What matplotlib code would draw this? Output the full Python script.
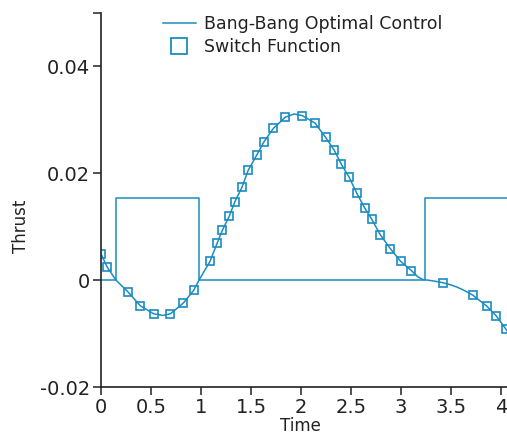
import matplotlib
matplotlib.use("Agg")
import matplotlib.pyplot as plt
from matplotlib.lines import Line2D

# Bang-bang control (step levels)
ctrl_t = [0.0, 0.15, 0.15, 0.98, 0.98, 3.24, 3.24, 4.1]
ctrl_u = [0.0, 0.0, 0.0153, 0.0153, 0.0, 0.0, 0.0153, 0.0153]

# Switch function samples (markers)
sw_t = [0.0, 0.063, 0.27, 0.393, 0.527, 0.693, 0.823, 0.927, 1.09, 1.163,
        1.213, 1.283, 1.337, 1.41, 1.473, 1.557, 1.63, 1.723, 1.843, 2.013,
        2.14, 2.247, 2.333, 2.403, 2.48, 2.557, 2.637, 2.707, 2.793, 2.893,
        2.997, 3.103, 3.423, 3.717, 3.86, 3.953, 4.05]
sw_v = [0.0049, 0.0024, -0.0022, -0.0048, -0.0064, -0.0064, -0.0043, -0.0019,
        0.0035, 0.0070, 0.0093, 0.0120, 0.0146, 0.0174, 0.0206, 0.0234,
        0.0259, 0.0284, 0.0305, 0.0308, 0.0294, 0.0267, 0.0243, 0.0217,
        0.0193, 0.0163, 0.0135, 0.0114, 0.0085, 0.0059, 0.0035, 0.0018,
        -0.0005, -0.0028, -0.0049, -0.0067, -0.0092]

# Switch function curve
curve_t = [0.0, 0.063, 0.15, 0.27, 0.393, 0.527, 0.62, 0.693, 0.823, 0.927,
           0.98, 1.03, 1.09, 1.163, 1.213, 1.283, 1.337, 1.41, 1.473, 1.557,
           1.63, 1.723, 1.843, 1.93, 2.013, 2.14, 2.247, 2.333, 2.403, 2.48,
           2.557, 2.637, 2.707, 2.793, 2.893, 2.997, 3.103, 3.17, 3.22, 3.27,
           3.34, 3.423, 3.5, 3.56, 3.64, 3.717, 3.86, 3.953, 4.05, 4.1]
curve_v = [0.0049, 0.0024, 0.0, -0.0022, -0.0048, -0.0063, -0.0066, -0.0063,
           -0.0043, -0.0019, 0.0, 0.0016, 0.0035, 0.0070, 0.0093, 0.0120,
           0.0146, 0.0174, 0.0206, 0.0234, 0.0259, 0.0284, 0.0305, 0.0311,
           0.0308, 0.0294, 0.0267, 0.0243, 0.0217, 0.0193, 0.0163, 0.0135,
           0.0114, 0.0085, 0.0059, 0.0035, 0.0018, 0.0006, 0.0001, 0.0,
           -0.0002, -0.0005, -0.0009, -0.0013, -0.0020, -0.0028, -0.0049,
           -0.0067, -0.0092, -0.0105]

xticks = [0, 0.5, 1, 1.5, 2, 2.5, 3, 3.5, 4]
xticklabels = ["0", "0.5", "1", "1.5", "2", "2.5", "3", "3.5", "4"]
yticks = [-0.02, 0, 0.02, 0.04, 0.05]
yticklabels = ["-0.02", "0", "0.02", "0.04", ""]

color = "#1a8cc0"
dark = "#222222"

fig = plt.figure(figsize=(5.07, 4.36), dpi=100)
ax = fig.add_axes([101 / 507, 49 / 436, 406 / 507, 374 / 436])

ax.plot(ctrl_t, ctrl_u, color=color, lw=1.1)
ax.plot(curve_t, curve_v, color=color, lw=1.1)
ax.plot(sw_t, sw_v, ls="none", marker="s", ms=6, mfc="none", mec=color,
        mew=1.2)

ax.set_xlim(0, 4.06)
ax.set_ylim(-0.02, 0.05)
ax.set_xticks(xticks)
ax.set_xticklabels(xticklabels)
ax.set_yticks(yticks)
ax.set_yticklabels(yticklabels)

for s in ["top", "right"]:
    ax.spines[s].set_visible(False)
for s in ["left", "bottom"]:
    ax.spines[s].set_color(dark)
    ax.spines[s].set_linewidth(1.2)

ax.tick_params(axis="both", direction="out", length=6, width=1.1,
               color=dark, labelsize=14, labelcolor=dark, pad=2)

ax.set_xlabel("Time", fontsize=12, color=dark)
ax.set_ylabel("Thrust", fontsize=12, color=dark)
ax.yaxis.set_label_coords(-71 / 406, 0.43)
ax.xaxis.set_label_coords(0.49, -0.08)

handles = [Line2D([], [], color=color, lw=1.1),
           Line2D([], [], ls="none", marker="s", ms=11, mfc="none", mec=color, mew=1.3)]
leg = ax.legend(handles, ["Bang-Bang Optimal Control", "Switch Function"],
                loc="upper left", bbox_to_anchor=(0.135, 1.012), frameon=False,
                prop={"size": 12.5}, handlelength=1.9, handletextpad=0.45,
                labelspacing=0.28, borderaxespad=0.0)
for t in leg.get_texts():
    t.set_color(dark)

fig.savefig("out.png", dpi=100)
